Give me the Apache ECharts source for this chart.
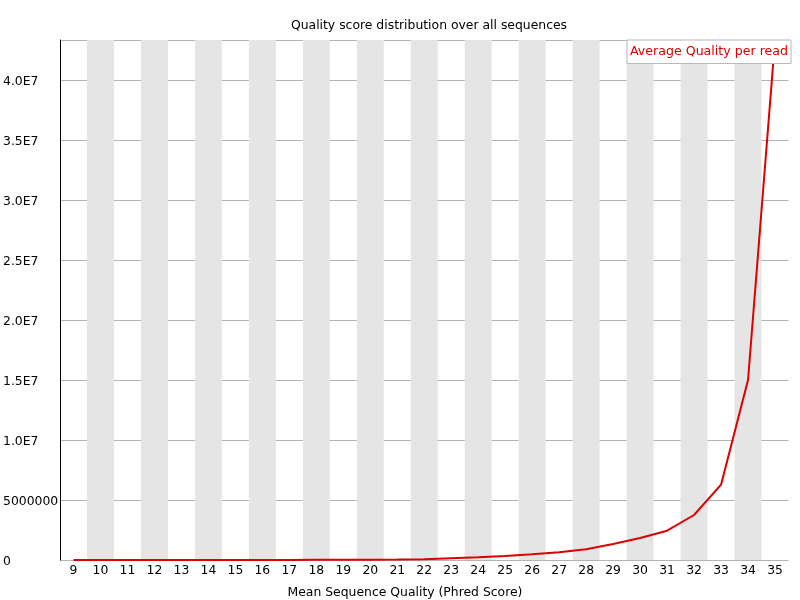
<!DOCTYPE html>
<html>
<head>
<meta charset="utf-8">
<script src="https://cdn.jsdelivr.net/npm/echarts@6/dist/echarts.min.js"></script>
<style>
html,body{margin:0;padding:0;background:#fff;}
#chart{width:800px;height:600px;}
</style>
</head>
<body>
<div id="chart"></div>
<script>
const categories = ['9','10','11','12','13','14','15','16','17','18','19','20','21','22','23','24','25','26','27','28','29','30','31','32','33','34','35'];
const averageQuality = [1500, 2000, 2500, 3000, 4000, 5000, 6000, 8000, 10000, 13000, 17000, 23000, 35000, 60000, 140000, 220000, 330000, 470000, 640000, 890000, 1330000, 1830000, 2440000, 3750000, 6280000, 15000000, 43300000];
const yTicks = [0, 5000000, 10000000, 15000000, 20000000, 25000000, 30000000, 35000000, 40000000];

const chart = echarts.init(document.getElementById('chart'));
const font = 'DejaVu Sans';
const fs = 12.4;
chart.setOption({
  animation: false,
  backgroundColor: '#ffffff',
  textStyle: { fontFamily: font },
  title: [
    { text: 'Quality score distribution over all sequences', left: 424, top: 15, textAlign: 'center',
      textStyle: { fontFamily: font, fontSize: fs, fontWeight: 'normal', color: '#000' } },
    { text: 'Mean Sequence Quality (Phred Score)', left: 400, top: 582, textAlign: 'center',
      textStyle: { fontFamily: font, fontSize: fs, fontWeight: 'normal', color: '#000' } }
  ],
  legend: {
    right: 9, top: 40, icon: 'none', itemWidth: 0, itemGap: 0,
    padding: [5, 3, 5, 3],
    borderColor: '#b8b8b8', borderWidth: 1, backgroundColor: '#fff', borderRadius: 0,
    textStyle: { color: '#dd0000', fontFamily: font, fontSize: 12.6, padding: [0, 0, 0, -5] },
    data: ['Average Quality per read']
  },
  grid: { left: 60, right: 11.5, top: 40, bottom: 40 },
  xAxis: {
    type: 'category', data: categories, boundaryGap: true,
    axisLine: { show: false }, axisTick: { show: false },
    axisLabel: { color: '#000', fontFamily: font, fontSize: fs, margin: 5, interval: 0 },
    splitArea: { show: true, interval: 0, areaStyle: { color: ['rgba(255,255,255,0)', '#e5e5e5'] } }
  },
  yAxis: {
    type: 'value', min: 0, max: 43333333, interval: 5000000,
    axisLine: { show: true, lineStyle: { color: '#000', width: 1 } },
    axisTick: { show: false },
    splitLine: { show: true, lineStyle: { color: '#b4b4b4', width: 1 } },
    axisLabel: {
      color: '#000', fontFamily: font, fontSize: fs, align: 'left', margin: 57, showMaxLabel: false,
      verticalAlign: 'top', lineHeight: 4,
      formatter: v => v === 0 ? '0' : (v < 10000000 ? String(v) : (v / 10000000).toFixed(1) + 'E7')
    }
  },
  series: [{
    name: 'Average Quality per read', type: 'line', data: averageQuality,
    showSymbol: false, lineStyle: { color: '#dd0000', width: 2 }, itemStyle: { color: '#dd0000' },
    clip: true
  }]
});
</script>
</body>
</html>
